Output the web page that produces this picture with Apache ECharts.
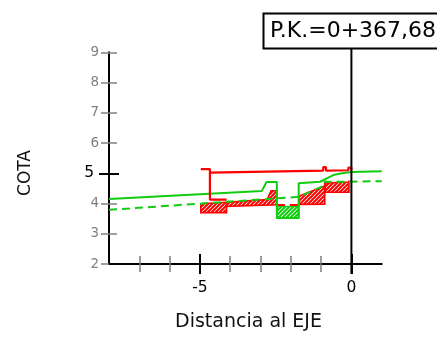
<!DOCTYPE html>
<html><head><meta charset="utf-8">
<script src="https://cdn.jsdelivr.net/npm/echarts@6/dist/echarts.min.js"></script>
<style>html,body{margin:0;padding:0;background:#fff}#c{width:437px;height:338px}</style>
</head><body><div id="c"></div>
<script>
// ---- data ----
const xMin = -8, xMax = 1, yMin = 2, yMax = 9;
const xMinorTicks = [-7, -6, -4, -3, -2, -1];
const xMajorTicks = [-5, 0];
const yMinorTicksOut = [2, 3, 4, 6, 7, 8, 9];
const yMinorTicksIn = [3, 4, 6, 7, 8, 9];
const yMajorTicks = [5];
const yLabels = [2, 3, 4, 5, 6, 7, 8, 9];
const terrain = [[-8, 4.15], [-2.96, 4.41], [-2.8, 4.71], [-2.46, 4.71], [-2.46, 3.52], [-1.74, 3.52], [-1.74, 4.67], [-1.03, 4.72], [-0.6, 4.94], [-0.31, 5.0], [0, 5.04], [1, 5.07]];
const subgrade = [[-8, 3.79], [-1.74, 4.22], [-0.88, 4.6], [-0.88, 4.72], [0, 4.72], [1, 4.74]];
const roadEdge = [[-4.97, 5.14], [-4.67, 5.14], [-4.67, 4.13], [-4.12, 4.13]];
const platform = [[-4.67, 5.02], [-0.93, 5.09], [-0.93, 5.2], [-0.84, 5.2], [-0.84, 5.09], [-0.1, 5.1], [-0.1, 5.19], [0, 5.19], [0, 5.1]];
const fillAreas = [
  [[-4.97, 3.99], [-4.12, 4.04], [-4.12, 3.70], [-4.97, 3.70]],
  [[-4.12, 4.04], [-2.78, 4.13], [-2.65, 4.42], [-2.46, 4.42], [-2.46, 3.96], [-4.12, 3.90]],
  [[-1.74, 3.97], [-1.74, 4.24], [-0.88, 4.58], [-0.88, 4.76], [-0.88, 3.98]],
  [[-0.86, 4.68], [-0.08, 4.71], [-0.08, 4.76], [-0.08, 4.37], [-0.86, 4.37]]
];
const cutAreas = [
  [[-2.46, 3.9], [-1.74, 3.9], [-1.74, 3.52], [-2.46, 3.52]]
];
const baseDashed = [[-2.46, 3.95], [-1.74, 3.95]];
const sectionLine = [[0, 1.67], [0, 9.13]];
const pkLabel = 'P.K.=0+367,68';
const yTitle = 'COTA';
const xTitle = 'Distancia al EJE';

// ---- styles ----
const RED = '#ff0000', GREEN = '#11cc11', GRAY = '#808080';
const FONT = 'DejaVu Sans';
function hatch(color) {
  const c = document.createElement('canvas'); c.width = 4; c.height = 4;
  const g = c.getContext('2d');
  g.fillStyle = '#fff'; g.fillRect(0, 0, 4, 4);
  g.strokeStyle = color; g.lineWidth = 2;
  g.beginPath();
  g.moveTo(0, 4); g.lineTo(4, 0);
  g.moveTo(-1, 1); g.lineTo(1, -1);
  g.moveTo(3, 5); g.lineTo(5, 3);
  g.stroke();
  return c;
}
const redHatch = hatch(RED), greenHatch = hatch(GREEN);

function xAx(ticks, inside, len, color, width, extra) {
  return Object.assign({
    type: 'value', min: xMin, max: xMax, position: 'bottom', offset: 0,
    axisLine: { show: false, onZero: false }, splitLine: { show: false },
    axisTick: { show: true, customValues: ticks, inside: inside, length: len, lineStyle: { color: color, width: width } },
    axisLabel: { show: false }
  }, extra || {});
}
function yAx(ticks, inside, len, color, width, extra) {
  return Object.assign({
    type: 'value', min: yMin, max: yMax, position: 'left', offset: 0,
    axisLine: { show: false, onZero: false }, splitLine: { show: false },
    axisTick: { show: true, customValues: ticks, inside: inside, length: len, lineStyle: { color: color, width: width } },
    axisLabel: { show: false }
  }, extra || {});
}

function polySeries(list, fillCanvas, stroke) {
  return {
    type: 'custom', xAxisIndex: 0, yAxisIndex: 0, silent: true, clip: false,
    data: list.map((p, i) => [p[0][0], p[0][1], i]),
    renderItem: function (params, api) {
      const poly = list[params.dataIndex];
      return {
        type: 'polygon',
        shape: { points: poly.map(p => api.coord(p)) },
        style: { fill: { image: fillCanvas, repeat: 'repeat' }, stroke: stroke, lineWidth: 1.6 }
      };
    }
  };
}
function lineSeries(data, color, width, dashed, z) {
  return {
    type: 'line', xAxisIndex: 0, yAxisIndex: 0, data: data, showSymbol: false, symbol: 'none',
    clip: false, silent: true, z: z || 3,
    lineStyle: { color: color, width: width, type: dashed ? [8, 5] : 'solid' }
  };
}

const chart = echarts.init(document.getElementById('c'), null, { renderer: 'canvas' });
chart.setOption({
  animation: false,
  backgroundColor: '#fff',
  grid: { left: 109, right: 55.3, top: 52.3, bottom: 74, containLabel: false },
  xAxis: [
    xAx(xMinorTicks, false, 8, GRAY, 1.5, {
      axisLine: { show: true, onZero: false, lineStyle: { color: '#000', width: 2 } },
      axisLabel: { show: true, customValues: xMajorTicks, color: '#000', fontSize: 15.5, fontFamily: FONT, margin: 16 }
    }),
    xAx(xMinorTicks, true, 8, GRAY, 1.5),
    xAx(xMajorTicks, false, 10, '#000', 2),
    xAx(xMajorTicks, true, 10, '#000', 2)
  ],
  yAxis: [
    yAx(yMinorTicksOut, false, 8, GRAY, 1.5, {
      axisLine: { show: true, onZero: false, lineStyle: { color: '#000', width: 2 } },
      axisLabel: {
        show: true, customValues: yLabels, margin: 10,
        formatter: v => (v === 5 ? '{b|' + v + '}' : '{g|' + v + '}'),
        rich: {
          b: { color: '#000', fontSize: 15.5, fontFamily: FONT, padding: [0, 5, 0, 0] },
          g: { color: GRAY, fontSize: 13.5, fontFamily: FONT }
        }
      }
    }),
    yAx(yMinorTicksIn, true, 8, GRAY, 1.5),
    yAx(yMajorTicks, false, 10, '#000', 2),
    yAx(yMajorTicks, true, 10, '#000', 2)
  ],
  series: [
    polySeries(fillAreas, redHatch, RED),
    polySeries(cutAreas, greenHatch, GREEN),
    lineSeries(baseDashed, RED, 2, true, 4),
    lineSeries(terrain, GREEN, 2, false, 5),
    lineSeries(roadEdge, RED, 2.2, false, 6),
    lineSeries(platform, RED, 2.2, false, 6),
    lineSeries(subgrade, GREEN, 2, true, 7),
    lineSeries(sectionLine, '#000', 2, false, 8)
  ],
  graphic: [
    { type: 'text', x: 26, y: 173, rotation: Math.PI / 2, style: { text: yTitle, font: '17px "DejaVu Sans"', fill: '#111', textAlign: 'center', textVerticalAlign: 'middle' } },
    { type: 'text', x: 248.5, y: 322, style: { text: xTitle, font: '19px "DejaVu Sans"', fill: '#111', textAlign: 'center', textVerticalAlign: 'middle' } },
    { type: 'rect', shape: { x: 263.5, y: 13.5, width: 200, height: 35 }, style: { fill: '#fff', stroke: '#000', lineWidth: 2 }, z: 100 },
    { type: 'text', x: 270, y: 31, style: { text: pkLabel, font: '22px "DejaVu Sans"', fill: '#000', textAlign: 'left', textVerticalAlign: 'middle' }, z: 101 }
  ]
});
</script>
</body></html>
